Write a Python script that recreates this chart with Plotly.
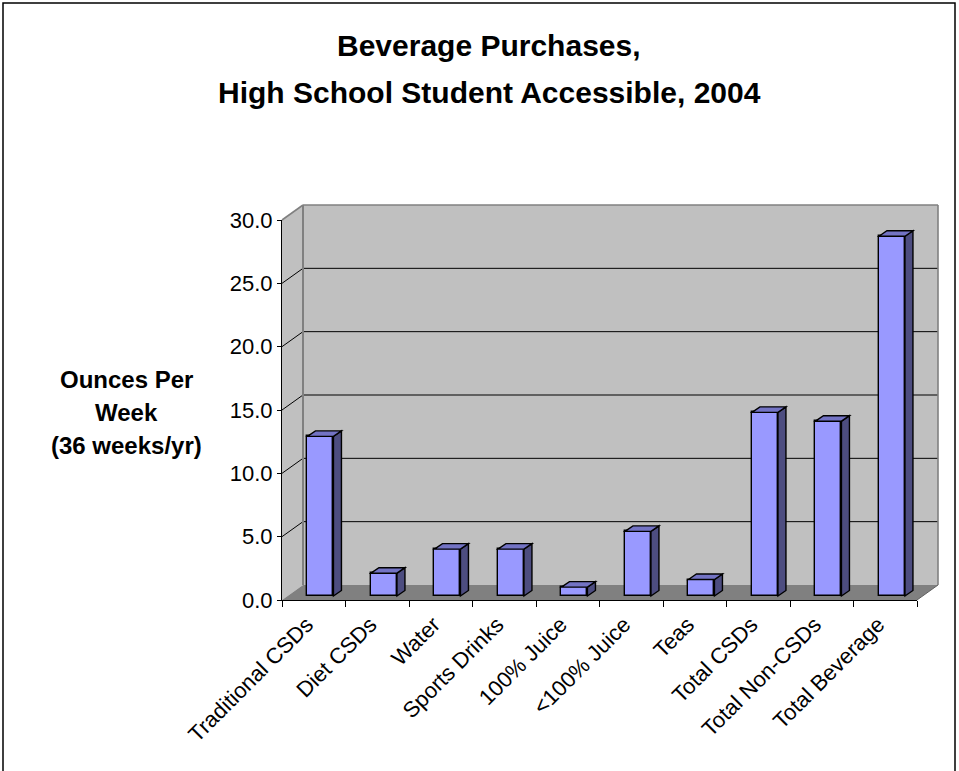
import plotly.graph_objects as go

# ---------------- data ----------------
categories = ["Traditional CSDs", "Diet CSDs", "Water", "Sports Drinks", "100% Juice",
              "<100% Juice", "Teas", "Total CSDs", "Total Non-CSDs", "Total Beverage"]
values = [12.6, 1.8, 3.7, 3.7, 0.7, 5.1, 1.3, 14.5, 13.8, 28.4]
y_ticks = [0, 5, 10, 15, 20, 25, 30]
title_lines = ["Beverage Purchases,", "High School Student Accessible, 2004"]
ytitle_lines = ["Ounces Per", "Week", "(36 weeks/yr)"]

# ---------------- geometry ----------------
W, H = 959, 771
L, R, T, B = 282, 917, 220, 600          # front plot area in pixels
YMAX = 30
n = len(categories)
X0, X1 = -0.5, n - 0.5

def px(x):
    return (x - L) / (R - L)

def py(y):
    return (B - y) / (B - T)

ux = (X1 - X0) / (R - L)    # data units per pixel (x)
uy = YMAX / (B - T)         # data units per pixel (y)

DX, DY = 21, 15             # wall depth (px)
BAR_W_PX = 26
BAR_SHIFT_PX = 6.7
BAR_LIFT_PX = 4
BAR_DX_PX, BAR_DY_PX = 8, 5.5

bw = BAR_W_PX * ux
off = -bw / 2 + BAR_SHIFT_PX * ux
base = BAR_LIFT_PX * uy
ddx = BAR_DX_PX * ux
ddy = BAR_DY_PX * uy

FONT = "Liberation Sans, Arial, sans-serif"

fig = go.Figure()
fig.add_trace(go.Bar(
    x=list(range(n)), y=values, base=base, width=bw, offset=off,
    marker=dict(color="#9999FF", line=dict(color="black", width=1.4)),
    hoverinfo="skip",
))

shapes = []

def poly(pts, fill, line_color=None, lw=0, layer="below", ref="paper"):
    d = "M " + " L ".join(f"{a},{b}" for a, b in pts) + " Z"
    s = dict(type="path", path=d, fillcolor=fill, layer=layer,
             line=dict(color=line_color or fill, width=lw))
    if ref == "paper":
        s.update(xref="paper", yref="paper")
    else:
        s.update(xref="x", yref="y")
    return s

def seg(x0, y0, x1, y1, color, lw):
    return dict(type="line", xref="paper", yref="paper", x0=x0, y0=y0, x1=x1, y1=y1,
                line=dict(color=color, width=lw), layer="below")

# side wall
shapes.append(poly([(px(L), py(B)), (px(L), py(T)), (px(L + DX), py(T - DY)), (px(L + DX), py(B - DY))],
                   "#C0C0C0"))
# back wall
shapes.append(poly([(px(L + DX), py(T - DY)), (px(R + DX), py(T - DY)),
                    (px(R + DX), py(B - DY)), (px(L + DX), py(B - DY))], "#C0C0C0"))
# floor
shapes.append(poly([(px(L), py(B)), (px(L + DX), py(B - DY)), (px(R + DX), py(B - DY)), (px(R), py(B))],
                   "#808080"))

# gridlines + side-wall diagonals
for v in y_ticks:
    yf = B - v / uy
    if v == 0:
        continue
    col = "#808080" if v == YMAX else "black"
    lw = 1.6 if v == YMAX else 1
    shapes.append(seg(px(L), py(yf), px(L + DX), py(yf - DY), col, lw))
    shapes.append(seg(px(L + DX), py(yf - DY), px(R + DX), py(yf - DY), col, lw))

# back wall edges (gray)
shapes.append(seg(px(L + DX), py(T - DY), px(L + DX), py(B - DY), "#808080", 2))
shapes.append(seg(px(R + DX), py(T - DY), px(R + DX), py(B - DY), "#808080", 1.6))
# floor right diagonal edge
shapes.append(seg(px(R), py(B), px(R + DX), py(B - DY), "#606060", 1))

# 3D faces of bars, computed from the values
for i, v in enumerate(values):
    xl = i + off
    xr = xl + bw
    yb = base
    yt = base + v
    shapes.append(poly([(xr, yb), (xr + ddx, yb + ddy), (xr + ddx, yt + ddy), (xr, yt)],
                       "#4D4D80", "black", 1.4, layer="above", ref="data"))
    shapes.append(poly([(xl, yt), (xl + ddx, yt + ddy), (xr + ddx, yt + ddy), (xr, yt)],
                       "#7373C4", "black", 1.4, layer="above", ref="data"))

# outer chart border
shapes.append(dict(type="rect", xref="paper", yref="paper",
                   x0=px(3), x1=px(955), y0=py(3), y1=py(790),
                   line=dict(color="black", width=1.5), fillcolor="rgba(0,0,0,0)", layer="above"))

annotations = []
title_y = [46, 93]
for txt, yy in zip(title_lines, title_y):
    annotations.append(dict(text=f"<b>{txt}</b>", xref="paper", yref="paper",
                            x=px(489), y=py(yy), xanchor="center", yanchor="middle",
                            showarrow=False, font=dict(family=FONT, size=30, color="black")))
yt_y = [379, 412, 445]
for txt, yy in zip(ytitle_lines, yt_y):
    annotations.append(dict(text=f"<b>{txt}</b>", xref="paper", yref="paper",
                            x=px(126), y=py(yy), xanchor="center", yanchor="middle",
                            showarrow=False, font=dict(family=FONT, size=24, color="black")))

fig.update_layout(
    width=W, height=H, autosize=False,
    margin=dict(l=L, r=W - R, t=T, b=H - B, pad=0),
    paper_bgcolor="white", plot_bgcolor="rgba(0,0,0,0)",
    showlegend=False, bargap=0,
    shapes=shapes, annotations=annotations,
    xaxis=dict(
        range=[X0, X1], tickmode="array", tickvals=list(range(n)),
        ticktext=[c.replace("<", "&lt;") for c in categories],
        tickangle=-45, ticks="", showline=True, linecolor="black", linewidth=1,
        showgrid=False, zeroline=False, fixedrange=True,
        ticklabelshift=-7, ticklabelstandoff=2,
        tickfont=dict(family=FONT, size=22, color="black"),
        minor=dict(tickmode="array", tickvals=[i - 0.5 for i in range(n + 1)],
                   ticks="outside", ticklen=6, tickcolor="black", tickwidth=1, showgrid=False),
    ),
    yaxis=dict(
        range=[0, YMAX], tickmode="array", tickvals=y_ticks,
        ticktext=[f"{v:.1f}" for v in y_ticks],
        ticks="outside", ticklen=4, tickcolor="black", showline=True, linecolor="black",
        linewidth=1, showgrid=False, zeroline=False, fixedrange=True,
        tickfont=dict(family=FONT, size=22, color="black"),
    ),
)

fig.write_html("out.html")
